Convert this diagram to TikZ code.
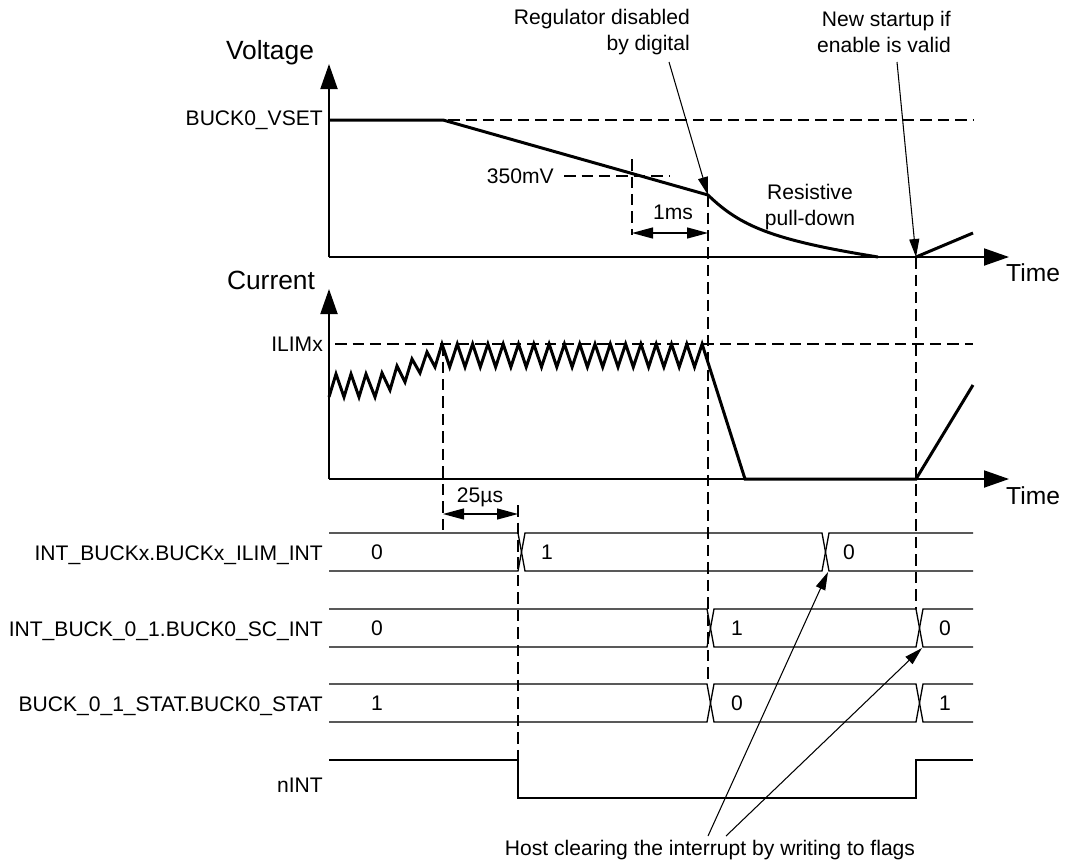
\documentclass[tikz,border=0pt]{standalone}
\usepackage{fontspec}
\setmainfont{Liberation Sans}
\usetikzlibrary{arrows.meta}

\tikzset{
  axisline/.style={line width=1.1pt, -{Triangle[length=0.5cm,width=0.34cm]}},
  wave/.style={line width=1.7pt},
  bus/.style={line width=0.75pt},
  guide/.style={line width=0.75pt, dash pattern=on 0.23cm off 0.12cm},
  dimarrow/.style={line width=0.75pt, {Triangle[length=0.42cm,width=0.22cm]}-{Triangle[length=0.42cm,width=0.22cm]}},
  note/.style={line width=0.6pt, -{Triangle[length=0.36cm,width=0.2cm]}},
  big/.style={font=\fontsize{15}{18}\selectfont},
}

\begin{document}
\begin{tikzpicture}[x=0.02cm,y=-0.02cm,font=\fontsize{12}{15.3}\selectfont]
\useasboundingbox (0,0) rectangle (1065,863);

% voltage
\node (vtitle) [big] at (270,53) {Voltage};
\draw [axisline] (329,257)--(329,64);
\draw [axisline] (329,257)--(1009,257);
\node (vtime) [right,font=\fontsize{14}{17}\selectfont] at (1000,273) {Time};
\node (vset) [left] at (329,120) {BUCK0\_VSET};
\node (mv) [left] at (560,176) {350mV};
\draw [guide] (448,120)--(973,120);
\draw [guide] (564,176)--(670,176);
\draw [guide] (632,159)--(632,235);
\draw [guide] (708,195)--(708,684);
\draw [guide] (916,257)--(916,609);
\draw [wave] (329,120)--(443,120)--(708,195) .. controls (740,226) and (772,240) .. (878,257);
\draw [wave] (916,257)--(973,233);
\draw [dimarrow] (632,233)--(708,233);
\node (onems) at (673,212) {1ms};
\node (resist) [align=center] at (810,207) {Resistive\\pull-down};
\node (regtxt) [left,align=right] at (696,32) {Regulator disabled\\by digital};
\node (newtxt) [left,align=right] at (957,32) {New startup if\\enable is valid};
\coordinate (regfoot) at (669,62);
\coordinate (brk) at (708,195);
\coordinate (newfoot) at (897,62);
\coordinate (restart) at (916,257);
\draw [note] (regfoot)--(brk);
\draw [note] (newfoot)--(restart);

% current
\node (ctitle) [big] at (271,280) {Current};
\draw [axisline] (329,479)--(329,289);
\draw [axisline] (329,479)--(1009,479);
\node (ctime) [right,font=\fontsize{14}{17}\selectfont] at (1000,496) {Time};
\node (ilim) [left] at (329,344) {ILIMx};
\draw [guide] (335,344)--(973,344);
\draw [guide] (443,344)--(443,533);
\draw [guide] (518,505)--(518,760);
\draw [wave] (329,397)--(336,374)--(344,397)--(351,374)--(359,397)--(366,374)--(375,397)
  --(382,373)--(390,390)--(397,366)--(405,382)--(412,359)--(420,373)--(427,352)--(435,367)--(442,344)
  \foreach \i in {1,...,17} {--({442+15.3*\i-7.6},367)--({442+15.3*\i},344)}
  --(745,479)--(916,479)--(973,385);
\draw [dimarrow] (443,514)--(518,514);
\node (tdeb) at (480,497) {25µs};

% flags
\node (rilim) [left] at (329,555) {INT\_BUCKx.BUCKx\_ILIM\_INT};
\draw [bus] (329,533)--(518,533)--(525,571)--(822,571)--(829,533)--(973,533);
\draw [bus] (329,571)--(518,571)--(525,533)--(822,533)--(829,571)--(973,571);
\node (ilim0) at (377,552) {0};
\node (ilim1) at (547,552) {1};
\node (ilim2) at (849,552) {0};

\node (rsc) [left] at (329,631) {INT\_BUCK\_0\_1.BUCK0\_SC\_INT};
\draw [bus] (329,609)--(707,609)--(714,647)--(916,647)--(923,609)--(973,609);
\draw [bus] (329,647)--(707,647)--(714,609)--(916,609)--(923,647)--(973,647);
\node (sc0) at (377,628) {0};
\node (sc1) at (737,628) {1};
\node (sc2) at (945,628) {0};

\node (rstat) [left] at (329,706) {BUCK\_0\_1\_STAT.BUCK0\_STAT};
\draw [bus] (329,684)--(707,684)--(714,722)--(916,722)--(923,684)--(973,684);
\draw [bus] (329,722)--(707,722)--(714,684)--(916,684)--(923,722)--(973,722);
\node (st0) at (377,703) {1};
\node (st1) at (737,703) {0};
\node (st2) at (945,703) {1};

\node (rnint) [left] at (329,785) {nINT};
\draw [bus] (329,760)--(518,760)--(518,798)--(916,798)--(916,760)--(973,760);

\node (host) at (710,850) {Host clearing the interrupt by writing to flags};
\coordinate (hostA) at (708,836);
\coordinate (hostB) at (726,836);
\coordinate (clrA) at (828,572);
\coordinate (clrB) at (922,648);
\draw [note] (hostA)--(clrA);
\draw [note] (hostB)--(clrB);
\end{tikzpicture}
\end{document}
